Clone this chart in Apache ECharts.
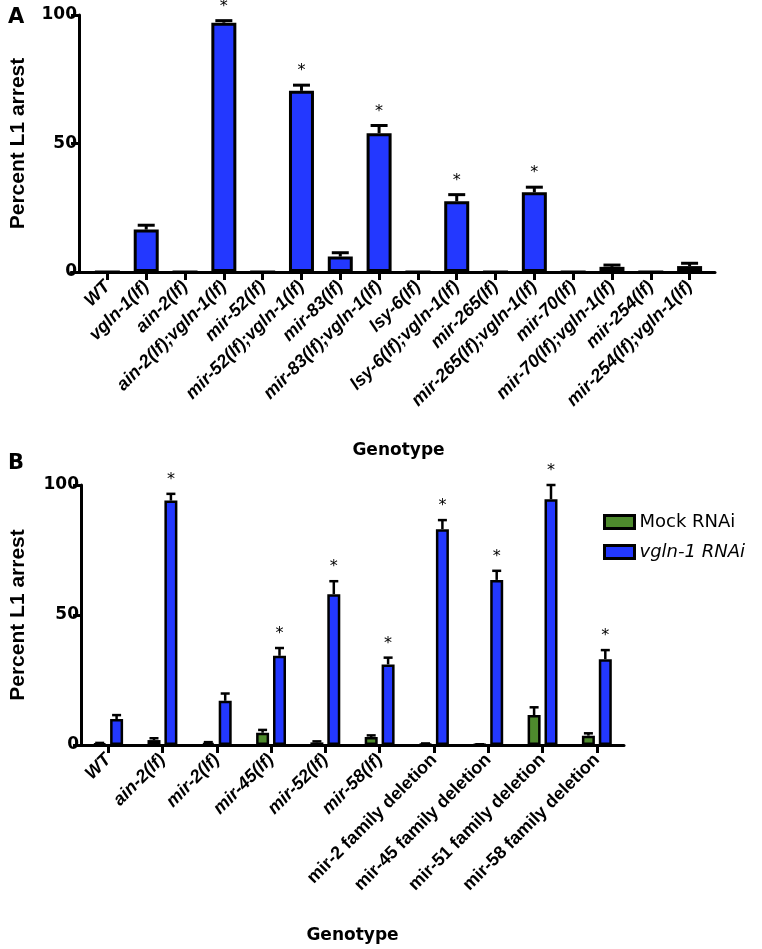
<!DOCTYPE html>
<html><head><meta charset="utf-8">
<script src="https://cdn.jsdelivr.net/npm/echarts@6/dist/echarts.min.js"></script>
<style>html,body{margin:0;padding:0;background:#fff}#c{width:762px;height:949px}</style>
</head><body><div id="c"></div>
<script>
// ---- Panel A data ----
const catsA = ['WT','vgln-1(lf)','ain-2(lf)','ain-2(lf);vgln-1(lf)','mir-52(lf)','mir-52(lf);vgln-1(lf)','mir-83(lf)','mir-83(lf);vgln-1(lf)','lsy-6(lf)','lsy-6(lf);vgln-1(lf)','mir-265(lf)','mir-265(lf);vgln-1(lf)','mir-70(lf)','mir-70(lf);vgln-1(lf)','mir-254(lf)','mir-254(lf);vgln-1(lf)'];
const valuesA = [0,16.5,0,97,0,70.5,6,54,0,27.5,0,31,0,2,0,2.3];
const errorsA = [0,1.7,0,0.8,0,2.2,1.5,3,0,2.6,0,2,0,0.7,0,1.1];
const sigA    = [0,0,0,1,0,1,0,1,0,1,0,1,0,0,0,0];
const yTicksA = [0,50,100];

// ---- Panel B data ----
const catsB = ['WT','ain-2(lf)','mir-2(lf)','mir-45(lf)','mir-52(lf)','mir-58(lf)','mir-2 family deletion','mir-45 family deletion','mir-51 family deletion','mir-58 family deletion'];
const mockB    = [0.5,1.9,0.8,4.7,1,3.1,0.4,0.2,11.5,3.6];
const mockErrB = [0.3,0.7,0.3,1.1,0.4,0.6,0.2,0.1,3,0.9];
const vglnB    = [10,94,17,34.3,58,31,83,63.5,94.5,33];
const vglnErrB = [1.5,2.6,2.8,3,5,2.6,3.5,3.5,5.5,3.5];
const sigB     = [0,1,0,1,1,1,1,1,1,1];
const yTicksB = [0,50,100];

const BLUE = '#2338ff', GREEN = '#4e8a2d';
const BOLD = 'Liberation Sans';
const WIDE = 'DejaVu Sans';

function catData(arr){
  return arr.map(c => ({value:c, textStyle:{fontStyle: c.indexOf('family') >= 0 ? 'normal' : 'italic'}}));
}
function errRender(offset, lw, cap, starGap){
  return function(params, api){
    const i = api.value(0), v = api.value(1), e = api.value(2), s = api.value(3);
    const base = api.coord([i, v]);
    const top = api.coord([i, v + e]);
    const x = base[0] + offset;
    const children = [];
    if (e > 0) {
      children.push({type:'line', shape:{x1:x, y1:base[1], x2:x, y2:top[1]}, style:{stroke:'#000', lineWidth:lw}});
      children.push({type:'line', shape:{x1:x-cap/2, y1:top[1], x2:x+cap/2, y2:top[1]}, style:{stroke:'#000', lineWidth:lw}});
    }
    if (s) {
      children.push({type:'text', x:x, y:top[1]-starGap, style:{text:'*', fill:'#000', font:'16px "DejaVu Sans"', align:'center', verticalAlign:'middle'}});
    }
    return {type:'group', children};
  };
}
function errData(vals, errs, sig){ return vals.map((v,i)=>[i, v, errs[i], sig[i]]); }

const axisLineStyle = {color:'#000', width:3};
const chart = echarts.init(document.getElementById('c'));
chart.setOption({
  animation:false,
  backgroundColor:'#fff',
  title:[
    {text:'A', left:3, top:2, textStyle:{fontFamily:WIDE, fontWeight:'bold', fontSize:21, color:'#000'}},
    {text:'B', left:3, top:448, textStyle:{fontFamily:WIDE, fontWeight:'bold', fontSize:21, color:'#000'}}
  ],
  legend:{
    orient:'vertical', left:598, top:508, itemWidth:30, itemHeight:13, itemGap:12, icon:'rect',
    textStyle:{fontFamily:WIDE, fontSize:18, color:'#000'},
    data:[{name:'Mock RNAi'},{name:'vgln-1 RNAi', textStyle:{fontStyle:'italic'}}],
    itemStyle:{borderColor:'#000', borderWidth:3}
  },
  grid:[
    {left:80, top:15, width:629, height:257},
    {left:71, top:15, width:644, height:257},
    {left:74, top:485, width:550, height:260}
  ],
  xAxis:[
    {type:'category', gridIndex:0, data:catData(catsA),
     axisLine:{show:false}, axisTick:{show:true, alignWithLabel:true, length:8, lineStyle:axisLineStyle},
     axisLabel:{interval:0, rotate:45, fontFamily:BOLD, fontWeight:'bold', fontSize:18, color:'#000', margin:12},
     name:'Genotype', nameLocation:'middle', nameGap:170,
     nameTextStyle:{fontFamily:WIDE, fontWeight:'bold', fontSize:17, color:'#000', verticalAlign:'top'}},
    {type:'value', gridIndex:1, min:0, max:1, axisLine:{show:true, lineStyle:axisLineStyle},
     axisTick:{show:false}, axisLabel:{show:false}, splitLine:{show:false}},
    {type:'category', gridIndex:2, data:catData(catsB),
     axisLine:{show:true, lineStyle:axisLineStyle}, axisTick:{show:true, alignWithLabel:true, length:8, lineStyle:axisLineStyle},
     axisLabel:{interval:0, rotate:45, fontFamily:BOLD, fontWeight:'bold', fontSize:18, color:'#000', margin:12},
     name:'Genotype', nameLocation:'middle', nameGap:182,
     nameTextStyle:{fontFamily:WIDE, fontWeight:'bold', fontSize:17, color:'#000', verticalAlign:'top'}}
  ],
  yAxis:[
    {type:'value', gridIndex:0, min:yTicksA[0], max:yTicksA[yTicksA.length-1], interval:yTicksA[1]-yTicksA[0], offset:9,
     axisLine:{show:true, lineStyle:axisLineStyle}, axisTick:{show:true, length:8, lineStyle:axisLineStyle},
     axisLabel:{fontFamily:WIDE, fontWeight:'bold', fontSize:17, color:'#000', margin:2},
     splitLine:{show:false},
     name:'Percent L1 arrest', nameLocation:'middle', nameGap:50,
     nameTextStyle:{fontFamily:BOLD, fontWeight:'bold', fontSize:21, color:'#000'}},
    {type:'value', gridIndex:1, show:false, min:0, max:1},
    {type:'value', gridIndex:2, min:yTicksB[0], max:yTicksB[yTicksB.length-1], interval:yTicksB[1]-yTicksB[0],
     axisLine:{show:true, lineStyle:axisLineStyle}, axisTick:{show:true, length:8, lineStyle:axisLineStyle},
     axisLabel:{fontFamily:WIDE, fontWeight:'bold', fontSize:17, color:'#000', margin:2},
     splitLine:{show:false},
     name:'Percent L1 arrest', nameLocation:'middle', nameGap:52,
     nameTextStyle:{fontFamily:BOLD, fontWeight:'bold', fontSize:21, color:'#000'}}
  ],
  series:[
    {name:'A', type:'bar', xAxisIndex:0, yAxisIndex:0, data:valuesA, barWidth:25,
     itemStyle:{color:BLUE, borderColor:'#000', borderWidth:3}},
    {name:'A err', type:'custom', xAxisIndex:0, yAxisIndex:0, data:errData(valuesA, errorsA, sigA),
     renderItem:errRender(0, 3, 17, 14), z:3},
    {name:'Mock RNAi', type:'bar', xAxisIndex:2, yAxisIndex:2, data:mockB, barWidth:13, barGap:'30%',
     itemStyle:{color:GREEN, borderColor:'#000', borderWidth:2.5}},
    {name:'vgln-1 RNAi', type:'bar', xAxisIndex:2, yAxisIndex:2, data:vglnB, barWidth:13, barGap:'30%',
     itemStyle:{color:BLUE, borderColor:'#000', borderWidth:2.5}},
    {name:'Mock err', type:'custom', xAxisIndex:2, yAxisIndex:2, data:errData(mockB, mockErrB, mockB.map(()=>0)),
     renderItem:errRender(-8.45, 2.5, 9, 14), z:3},
    {name:'vgln err', type:'custom', xAxisIndex:2, yAxisIndex:2, data:errData(vglnB, vglnErrB, sigB),
     renderItem:errRender(8.45, 2.5, 9, 14), z:3}
  ]
});
</script></body></html>
